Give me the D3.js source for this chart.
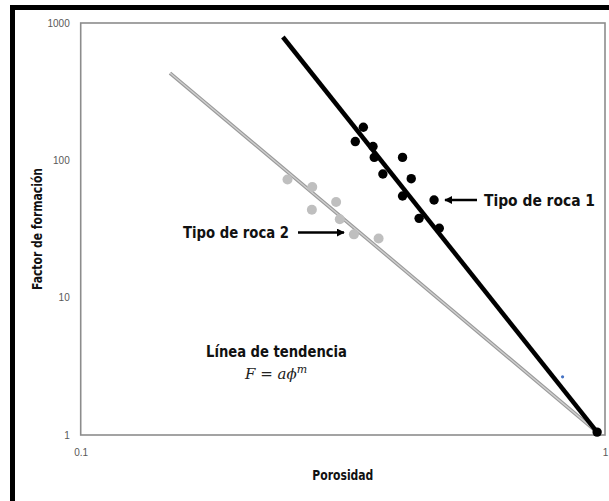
<!DOCTYPE html>
<html>
<head>
<meta charset="utf-8">
<script src="https://cdn.jsdelivr.net/npm/d3@7"></script>
<style>
  html, body { margin: 0; padding: 0; background: #fff; }
  svg { display: block; }
</style>
</head>
<body>
<svg id="chart" width="609" height="501"></svg>
<script>
// Porosity (phi) vs formation factor (F), log-log
const rock1Phi = [0.346, 0.334, 0.361, 0.363, 0.411, 0.377, 0.427, 0.411, 0.472, 0.442, 0.483, 0.966];
const rock1F   = [174, 137, 126, 105, 105, 79.5, 73.5, 55, 51.4, 37.8, 32.0, 1.05];
const rock2Phi = [0.248, 0.2765, 0.307, 0.276, 0.312, 0.332, 0.370];
const rock2F   = [72.5, 64, 49.7, 43.7, 37.2, 28.9, 27.0];
// trend line end points
const trend1Phi = [0.243, 0.966];
const trend1F   = [791, 1.05];
const trend2Phi = [0.148, 0.966];
const trend2F   = [432, 1.05];
const strayPhi = [0.83];
const strayF   = [2.65];

const xTicks = [0.1, 1];
const xTickLabels = ["0.1", "1"];
const yTicks = [1, 10, 100, 1000];
const yTickLabels = ["1", "10", "100", "1000"];

const svg = d3.select("#chart");
const plotLeft = 80.7, plotRight = 605, plotTop = 23, plotBottom = 435;

const x = d3.scaleLog().domain([0.1, 1]).range([plotLeft, plotRight]);
const y = d3.scaleLog().domain([1, 1000]).range([plotBottom, plotTop]);

// outer frame
svg.append("path")
  .attr("d", "M12.5,501 V7.5 H609")
  .attr("fill", "none").attr("stroke", "#000").attr("stroke-width", 5);

// plot area border
svg.append("rect")
  .attr("x", plotLeft).attr("y", plotTop)
  .attr("width", plotRight - plotLeft).attr("height", plotBottom - plotTop)
  .attr("fill", "none").attr("stroke", "#8c8c8c").attr("stroke-width", 1.6);

const tickFont = "'Liberation Sans', Arial, sans-serif";

const yAxis = svg.append("g").attr("transform", `translate(${plotLeft},0)`)
  .call(d3.axisLeft(y).tickValues(yTicks).tickSize(0).tickPadding(11)
    .tickFormat((d, i) => yTickLabels[i]));
yAxis.select(".domain").remove();
yAxis.selectAll("text").attr("fill", "#595959").style("font-family", tickFont).style("font-size", "10px");

const xAxis = svg.append("g").attr("transform", `translate(0,${plotBottom})`)
  .call(d3.axisBottom(x).tickValues(xTicks).tickSize(0).tickPadding(14)
    .tickFormat((d, i) => xTickLabels[i]));
xAxis.select(".domain").remove();
xAxis.selectAll("text").attr("fill", "#595959").style("font-family", tickFont).style("font-size", "10px");

const boldFont = "'DejaVu Sans Condensed', 'DejaVu Sans', sans-serif";

// axis titles
svg.append("text")
  .attr("transform", `translate(41.5,${(plotTop + plotBottom) / 2}) rotate(-90)`)
  .attr("text-anchor", "middle")
  .attr("textLength", 122).attr("lengthAdjust", "spacingAndGlyphs")
  .style("font-family", boldFont).style("font-weight", "bold").style("font-size", "13.5px")
  .attr("fill", "#111")
  .text("Factor de formación");

svg.append("text")
  .attr("x", (plotLeft + plotRight) / 2).attr("y", 480)
  .attr("text-anchor", "middle")
  .attr("textLength", 61).attr("lengthAdjust", "spacingAndGlyphs")
  .style("font-family", boldFont).style("font-weight", "bold").style("font-size", "13.5px")
  .attr("fill", "#111")
  .text("Porosidad");

const line = d3.line().x(d => x(d[0])).y(d => y(d[1]));

// rock type 2 trend line (gray, two-tone)
const t2 = trend2Phi.map((p, i) => [p, trend2F[i]]);
svg.append("path").attr("d", line(t2)).attr("fill", "none")
  .attr("stroke", "#9a9a9a").attr("stroke-width", 3.6);
svg.append("path").attr("d", line(t2)).attr("fill", "none")
  .attr("stroke", "#cfcfcf").attr("stroke-width", 1.4);

// rock type 1 trend line
const t1 = trend1Phi.map((p, i) => [p, trend1F[i]]);
svg.append("path").attr("d", line(t1)).attr("fill", "none")
  .attr("stroke", "#000").attr("stroke-width", 4.5);

// data points
svg.append("g").selectAll("circle")
  .data(rock2Phi.map((p, i) => [p, rock2F[i]]))
  .join("circle")
  .attr("cx", d => x(d[0])).attr("cy", d => y(d[1])).attr("r", 5)
  .attr("fill", "#bfbfbf");

svg.append("g").selectAll("circle")
  .data(rock1Phi.map((p, i) => [p, rock1F[i]]))
  .join("circle")
  .attr("cx", d => x(d[0])).attr("cy", d => y(d[1])).attr("r", 4.7)
  .attr("fill", "#000");

svg.append("g").selectAll("circle")
  .data(strayPhi.map((p, i) => [p, strayF[i]]))
  .join("circle")
  .attr("cx", d => x(d[0])).attr("cy", d => y(d[1])).attr("r", 1.6)
  .attr("fill", "#4472c4");

// arrows
const defs = svg.append("defs");
defs.append("marker").attr("id", "head")
  .attr("viewBox", "0 0 10 10").attr("refX", 9).attr("refY", 5)
  .attr("markerWidth", 3.2).attr("markerHeight", 3.2).attr("orient", "auto")
  .attr("markerUnits", "strokeWidth")
  .append("path").attr("d", "M0,0 L10,5 L0,10 Z").attr("fill", "#000");

svg.append("line")
  .attr("x1", 477).attr("y1", 200).attr("x2", 445).attr("y2", 200)
  .attr("stroke", "#000").attr("stroke-width", 2.5).attr("marker-end", "url(#head)");
svg.append("line")
  .attr("x1", 298).attr("y1", 232.5).attr("x2", 344).attr("y2", 232.5)
  .attr("stroke", "#000").attr("stroke-width", 2.5).attr("marker-end", "url(#head)");

const noteStyle = sel => sel
  .style("font-family", boldFont).style("font-weight", "bold").style("font-size", "16px")
  .attr("fill", "#111");

svg.append("text").attr("x", 484).attr("y", 206)
  .attr("textLength", 111).attr("lengthAdjust", "spacingAndGlyphs")
  .call(noteStyle).text("Tipo de roca 1");
svg.append("text").attr("x", 183).attr("y", 238)
  .attr("textLength", 106).attr("lengthAdjust", "spacingAndGlyphs")
  .call(noteStyle).text("Tipo de roca 2");
svg.append("text").attr("x", 206).attr("y", 356.5)
  .attr("textLength", 141).attr("lengthAdjust", "spacingAndGlyphs")
  .call(noteStyle).text("Línea de tendencia");

// trend equation
const eq = svg.append("text").attr("x", 245).attr("y", 379)
  .style("font-family", "'DejaVu Serif', 'Liberation Serif', serif")
  .style("font-style", "italic").style("font-size", "15px").attr("fill", "#222");
eq.append("tspan").text("F");
eq.append("tspan").style("font-style", "normal").text(" = ");
eq.append("tspan").text("aϕ");
eq.append("tspan").attr("dy", -6).style("font-size", "11px").text("m");
</script>
</body>
</html>
